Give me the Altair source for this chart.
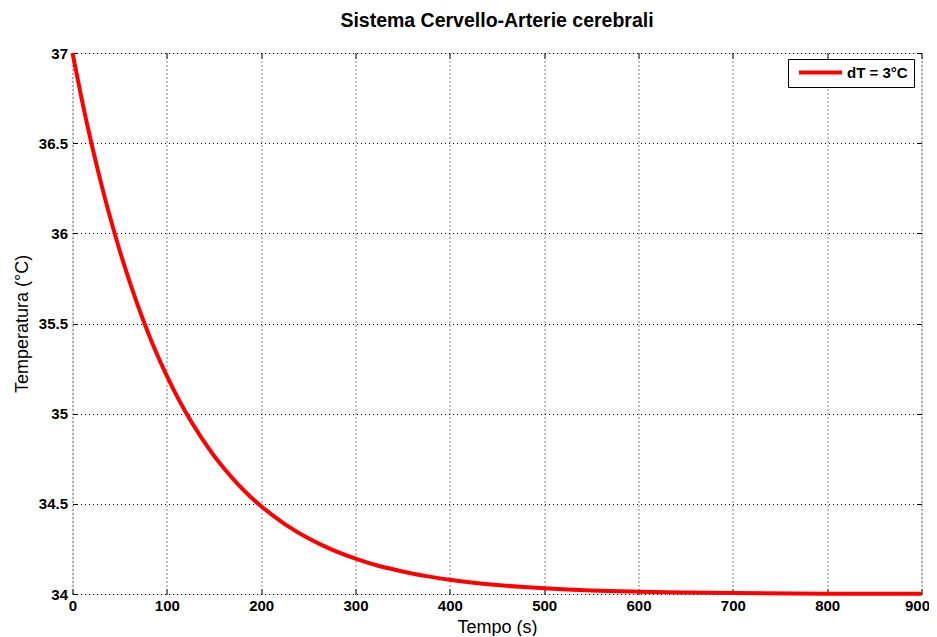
import altair as alt
import pandas as pd

# Values
tempo = [0, 10, 20, 30, 40, 50, 62.5, 75, 87.5, 100, 112.5, 125, 137.5, 150, 162.5, 175,
         187.5, 200, 225, 250, 275, 300, 325, 350, 375, 400, 425, 450, 475, 500, 550,
         600, 650, 700, 800, 900]
temperatura = [37.000, 36.739, 36.501, 36.284, 36.086, 35.905, 35.702, 35.518, 35.354, 35.209,
               35.079, 34.963, 34.860, 34.767, 34.685, 34.611, 34.545, 34.487, 34.388, 34.309,
               34.246, 34.196, 34.155, 34.125, 34.099, 34.079, 34.063, 34.050, 34.040,
               34.032, 34.020, 34.013, 34.008, 34.005, 34.002, 34.001]
serie = "dT = 3°C"
x_ticks = [0, 100, 200, 300, 400, 500, 600, 700, 800, 900]
y_ticks = [34, 34.5, 35, 35.5, 36, 36.5, 37]

df = pd.DataFrame({"Tempo": tempo, "Temperatura": temperatura, "Serie": [serie] * len(tempo)})

FONT = "Liberation Sans"

xscale = alt.Scale(domain=[0, 900], nice=False, zero=False)
yscale = alt.Scale(domain=[34, 37], nice=False, zero=False)

grid_kw = dict(grid=True, gridColor="black", gridDash=[1, 3], gridOpacity=1, gridWidth=1)
tick_kw = dict(offset=-5, tickSize=5, domain=False, tickColor="black", tickWidth=1)
label_kw = dict(labelFont=FONT, labelFontSize=15, labelFontWeight="bold", labelColor="black",
                labelFlush=False, labelOverlap=False)
title_kw = dict(titleFont=FONT, titleFontSize=18, titleFontWeight="normal", titleColor="black")

last_x = "datum.value == %d" % x_ticks[-1]

base = alt.Chart(df)

line = base.mark_line(strokeWidth=4, interpolate="monotone").encode(
    x=alt.X("Tempo:Q", scale=xscale,
            axis=alt.Axis(orient="bottom", values=x_ticks, title="Tempo (s)", format="d",
                          labelAlign={"condition": {"test": last_x, "value": "right"}, "value": "center"},
                          labelOffset={"condition": {"test": last_x, "value": 8}, "value": 0},
                          labelPadding=4, titlePadding=5, **grid_kw, **tick_kw, **label_kw, **title_kw)),
    y=alt.Y("Temperatura:Q", scale=yscale,
            axis=alt.Axis(orient="left", values=y_ticks, title="Temperatura (°C)", format=".1~f",
                          labelPadding=5, titlePadding=7, **grid_kw, **tick_kw, **label_kw, **title_kw)),
    color=alt.Color("Serie:N", scale=alt.Scale(domain=[serie], range=["#ff0000"]),
                    legend=alt.Legend(title=None, orient="none", legendX=715.5, legendY=6,
                                      strokeColor="black", fillColor="white", padding=6,
                                      symbolType="stroke", symbolStrokeWidth=4, symbolSize=1849,
                                      symbolOffset=3, labelOffset=3, clipHeight=15,
                                      labelFont=FONT, labelFontSize=15, labelFontWeight="bold",
                                      labelColor="black")),
)

frame = base.mark_line(opacity=0).encode(
    x=alt.X("Tempo:Q", scale=xscale,
            axis=alt.Axis(orient="top", values=x_ticks, labels=False, title=None, grid=False, **tick_kw)),
    y=alt.Y("Temperatura:Q", scale=yscale,
            axis=alt.Axis(orient="right", values=y_ticks, labels=False, title=None, grid=False, **tick_kw)),
)

chart = alt.layer(line, frame).resolve_axis(x="independent", y="independent").properties(
    width=849,
    height=541,
    title=alt.Title("Sistema Cervello-Arterie cerebrali", font=FONT, fontSize=19.5,
                    fontWeight="bold", color="black", anchor="middle", offset=14),
    autosize=alt.AutoSizeParams(type="none"),
    padding={"left": 64.5, "top": 45, "right": 7.5, "bottom": 42},
).configure_view(stroke="#333333", strokeWidth=1).configure(background="white")

chart.save("out.html", embed_options={"renderer": "svg", "actions": False})
